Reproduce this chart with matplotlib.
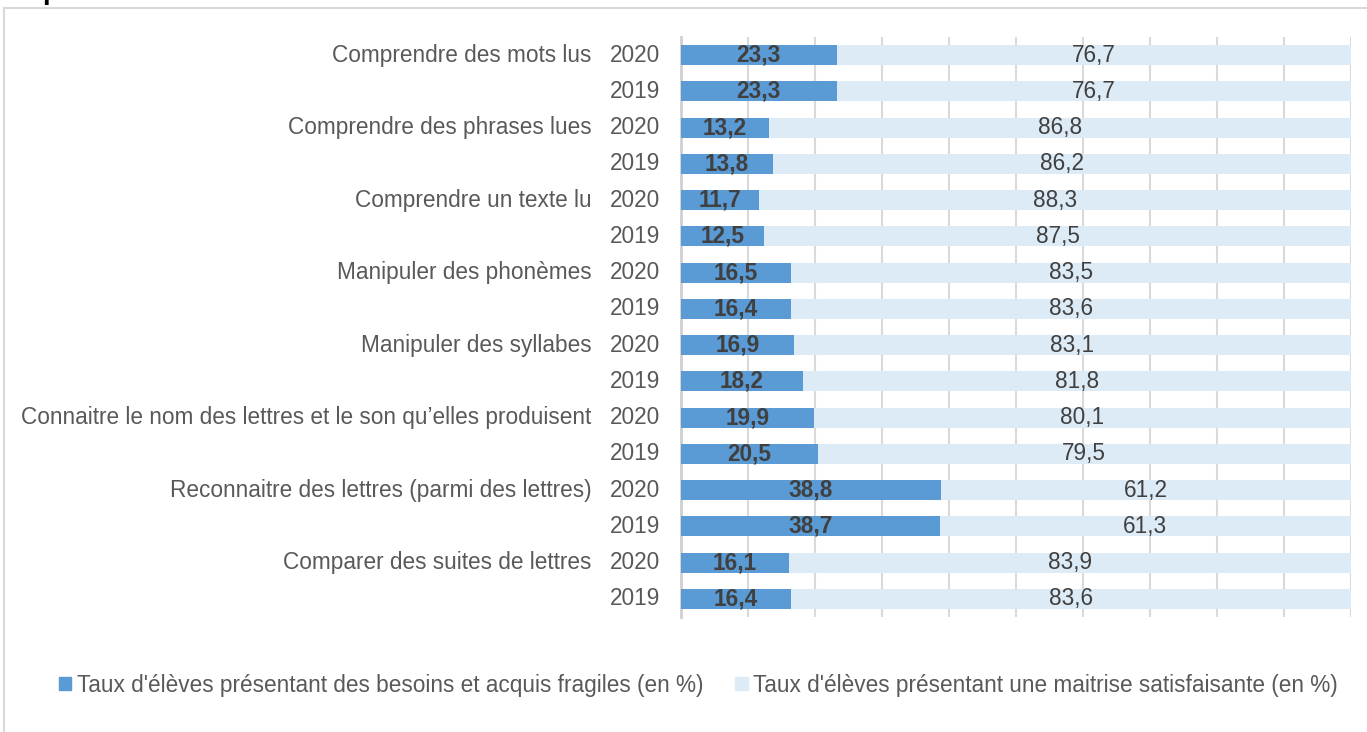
import matplotlib
matplotlib.use("Agg")
import matplotlib.pyplot as plt
from matplotlib.patches import Patch, Rectangle

plt.rcParams['font.family'] = ['Liberation Sans', 'DejaVu Sans']

categories = ["Comprendre des mots lus", "Comprendre des phrases lues", "Comprendre un texte lu",
              "Manipuler des phonèmes", "Manipuler des syllabes",
              "Connaitre le nom des lettres et le son qu\u2019elles produisent",
              "Reconnaitre des lettres (parmi des lettres)", "Comparer des suites de lettres"]
years = ["2020", "2019"]
fragiles = [23.3, 23.3, 13.2, 13.8, 11.7, 12.5, 16.5, 16.4, 16.9, 18.2, 19.9, 20.5, 38.8, 38.7, 16.1, 16.4]
satisf = [76.7, 76.7, 86.8, 86.2, 88.3, 87.5, 83.5, 83.6, 83.1, 81.8, 80.1, 79.5, 61.2, 61.3, 83.9, 83.6]
legend_labels = ["Taux d'élèves présentant des besoins et acquis fragiles (en %)",
                 "Taux d'élèves présentant une maitrise satisfaisante (en %)"]

dark = "#5B9BD5"
light = "#DDEBF7"
txt = "#595959"
fs = 16.3

fig = plt.figure(figsize=(13.67, 7.32), dpi=100)
ax = fig.add_axes([0.498, 0.157, 0.49, 0.7925])

pos = list(range(len(fragiles)))
ax.barh(pos, fragiles, height=0.55, color=dark, zorder=3)
ax.barh(pos, satisf, left=fragiles, height=0.55, color=light, zorder=3)

for i in pos:
    ax.text(fragiles[i] / 2, i, f"{fragiles[i]:.1f}".replace(".", ","), ha="center", va="center",
            fontsize=fs, fontweight="bold", color="#404040", zorder=4)
    ax.text(fragiles[i] + satisf[i] / 2, i, f"{satisf[i]:.1f}".replace(".", ","), ha="center",
            va="center", fontsize=fs, color="#404040", zorder=4)
    ax.text(-0.031, i, years[i % 2], transform=ax.get_yaxis_transform(), ha="right", va="center",
            fontsize=fs, color=txt)
    if i % 2 == 0:
        ax.text(-0.133, i, categories[i // 2], transform=ax.get_yaxis_transform(), ha="right",
                va="center", fontsize=fs, color=txt)

ax.set_xlim(0, 100)
ax.set_ylim(15.5, -0.5)
ax.set_xticks(range(0, 101, 10))
ax.set_xticklabels([])
ax.set_yticks([])
ax.tick_params(length=0)
ax.grid(axis="x", color="#D9D9D9", lw=1.5, zorder=0)
for s in ["top", "right", "bottom"]:
    ax.spines[s].set_visible(False)
ax.spines["left"].set_color("#D0D0D0")
ax.spines["left"].set_linewidth(2)

handles = [Patch(color=dark), Patch(color=light)]
fig.legend(handles, legend_labels, loc="center", bbox_to_anchor=(0.511, 0.064), ncol=2,
           frameon=False, fontsize=fs, handlelength=0.55, handleheight=0.55, handletextpad=0.25,
           columnspacing=1.4, labelcolor=txt)

fig.patches.append(Rectangle((0.003, -0.05), 1.1, 1.039, transform=fig.transFigure,
                             fill=False, edgecolor="#D9D9D9", lw=1.5))
fig.text(0.031, 1.002, "p", fontsize=20, fontweight="bold", va="baseline", color="black")

fig.savefig("out.png", dpi=100)
